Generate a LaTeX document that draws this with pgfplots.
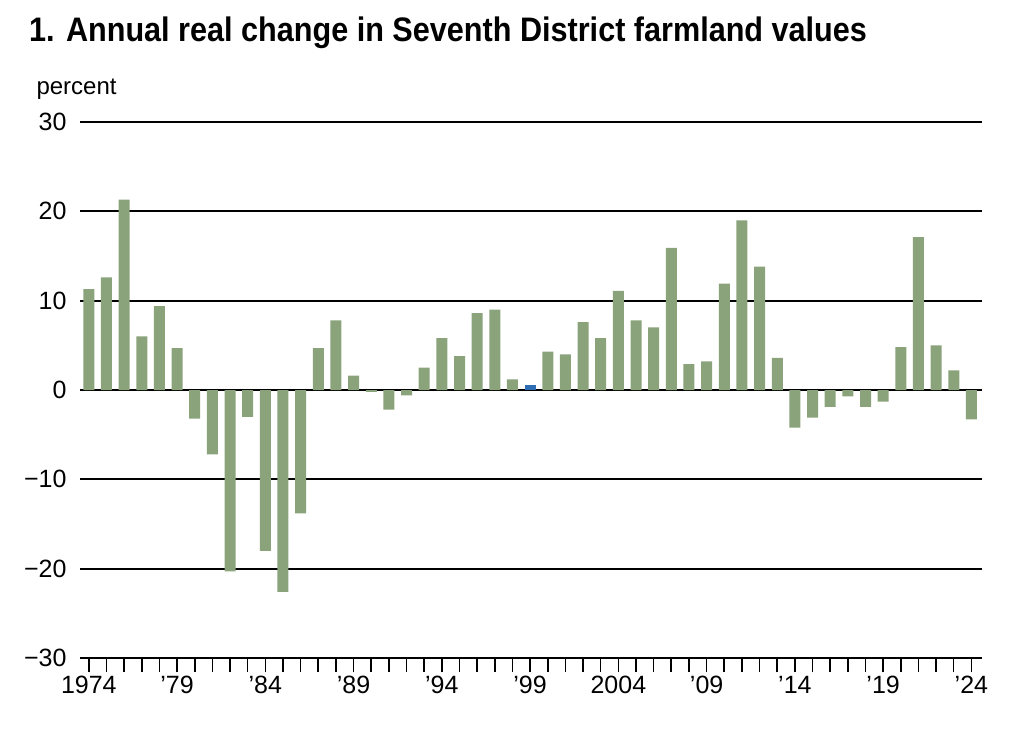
\documentclass[border=0pt]{standalone}
\usepackage{pgfplots}
\pgfplotsset{compat=1.18}
\usepackage{fontspec}
\setmainfont{Liberation Sans}
\definecolor{bar}{HTML}{8AA37B}
\definecolor{bl}{HTML}{2E6DB4}
\begin{document}
\begin{tikzpicture}[x=1pt,y=1pt]
\useasboundingbox (0,0) rectangle (1024,734);
\node[anchor=base west,font=\fontsize{34}{36}\selectfont\bfseries,xscale=0.9] at (26,692) {1. Annual real change in Seventh District farmland values};
\node[anchor=base west,font=\fontsize{24}{26}\selectfont] at (33,639) {percent};
\begin{axis}[at={(80pt,76pt)},anchor=south west,scale only axis,width=902pt,height=536pt,
 xmin=1973.5,xmax=2024.6,ymin=-30,ymax=30,
 axis y line*=left, axis x line*=bottom, y axis line style={draw=none},
 ytick={-30,-20,...,30}, yticklabels={−30,−20,−10,0,10,20,30}, ymajorgrids,
 major grid style={black,line width=2pt},
 major y tick style={draw=none},
 yticklabel style={font=\fontsize{25}{27}\selectfont,xshift=-10pt},
 xtick={1974,1979,...,2024},
 xticklabels={1974,'79,'84,'89,'94,'99,2004,'09,'14,'19,'24},
 minor xtick={1974,...,2024},
 xtick align=inside, major tick length=14pt, minor tick length=14pt,
 tick style={black,line width=1.6pt},
 x axis line style={black,line width=2pt},
 xticklabel style={font=\fontsize{25}{27}\selectfont,yshift=-1pt},
 ybar, bar width=11pt, bar shift=0pt,
 clip=false]
\addplot[fill=bar,draw=none] coordinates {
(1974,11.3)(1975,12.6)(1976,21.3)(1977,6.0)(1978,9.4)(1979,4.7)(1980,-3.2)(1981,-7.2)
(1982,-20.3)(1983,-3.0)(1984,-18.0)(1985,-22.6)(1986,-13.8)(1987,4.7)(1988,7.8)(1989,1.6)
(1990,-0.2)(1991,-2.2)(1992,-0.6)(1993,2.5)(1994,5.8)(1995,3.8)(1996,8.6)(1997,9.0)
(1998,1.2)(2000,4.3)(2001,4.0)(2002,7.6)(2003,5.8)(2004,11.1)(2005,7.8)
(2006,7.0)(2007,15.9)(2008,2.9)(2009,3.2)(2010,11.9)(2011,19.0)(2012,13.8)(2013,3.6)
(2014,-4.2)(2015,-3.1)(2016,-1.9)(2017,-0.7)(2018,-1.9)(2019,-1.3)(2020,4.8)(2021,17.1)
(2022,5.0)(2023,2.2)(2024,-3.3)};
\addplot[fill=bl,draw=none] coordinates {(1999,0.6)};
\end{axis}
\end{tikzpicture}
\end{document}
